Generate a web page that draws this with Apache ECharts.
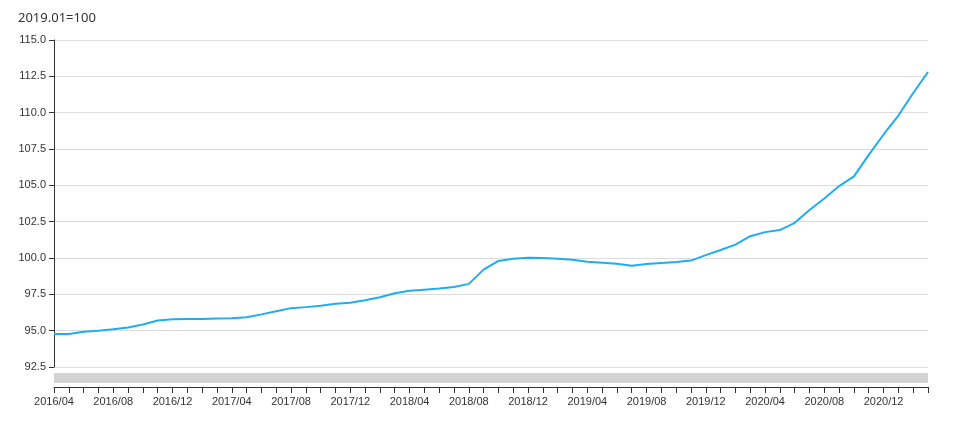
<!DOCTYPE html>
<html>
<head>
<meta charset="utf-8">
<style>
  html, body { margin: 0; padding: 0; background: #fff; }
  #chart { width: 968px; height: 429px; }
</style>
<script src="https://cdn.jsdelivr.net/npm/echarts@6/dist/echarts.min.js"></script>
</head>
<body>
<div id="chart"></div>
<script>
// monthly index, 2019.01 = 100
const months = [];
for (let y = 2016; y <= 2021; y++) {
  for (let m = 1; m <= 12; m++) {
    if ((y === 2016 && m < 4) || (y === 2021 && m > 3)) continue;
    months.push(y + "/" + String(m).padStart(2, "0"));
  }
}

const indexValues = [
  94.77, 94.77, 94.92, 95.0, 95.1, 95.22, 95.42, 95.7, 95.78, 95.8,
  95.8, 95.84, 95.85, 95.92, 96.12, 96.33, 96.55, 96.62, 96.72, 96.85,
  96.92, 97.1, 97.3, 97.58, 97.74, 97.82, 97.9, 98.0, 98.22, 99.2,
  99.8, 99.95, 100.02, 100.0, 99.95, 99.88, 99.75, 99.68, 99.6, 99.47,
  99.58, 99.65, 99.72, 99.82, 100.2, 100.55, 100.92, 101.5, 101.78, 101.92,
  102.42, 103.3, 104.1, 104.95, 105.62, 107.1, 108.5, 109.8, 111.35, 112.8
];

const chart = echarts.init(document.getElementById("chart"), null, { renderer: "canvas" });

chart.setOption({
  animation: false,
  title: {
    text: "2019.01=100",
    left: 13,
    top: 7,
    textStyle: { fontSize: 13, fontWeight: "normal", color: "#333", fontFamily: "Noto Sans" }
  },
  grid: { left: 54, right: 40, top: 40, bottom: 62 },
  xAxis: [
    {
      type: "category",
      data: months,
      boundaryGap: false,
      offset: 20,
      axisLine: { lineStyle: { color: "#333" } },
      axisTick: { interval: 0, length: 6, lineStyle: { color: "#333" } },
      axisLabel: { interval: 3, color: "#333", fontSize: 11, margin: 9, fontFamily: "Liberation Sans" },
      splitLine: { show: false }
    },
    {
      type: "category",
      data: months,
      position: "bottom",
      boundaryGap: false,
      offset: 11,
      axisLine: { lineStyle: { color: "#d3d3d3", width: 10, cap: "butt" } },
      axisTick: { show: false },
      axisLabel: { show: false },
      splitLine: { show: false }
    }
  ],
  yAxis: {
    type: "value",
    min: 92.5,
    max: 115,
    interval: 2.5,
    axisLine: { show: true, lineStyle: { color: "#333" } },
    axisTick: { show: true, length: 5, lineStyle: { color: "#333" } },
    axisLabel: {
      color: "#333",
      fontSize: 11,
      margin: 8,
      fontFamily: "Liberation Sans",
      formatter: (v) => v.toFixed(1)
    },
    splitLine: { lineStyle: { color: "#dcdcdc" } }
  },
  series: [
    {
      type: "line",
      data: indexValues,
      xAxisIndex: 0,
      showSymbol: false,
      symbol: "none",
      lineStyle: { color: "#1eaef0", width: 2 },
      itemStyle: { color: "#1eaef0" }
    }
  ]
});
</script>
</body>
</html>
